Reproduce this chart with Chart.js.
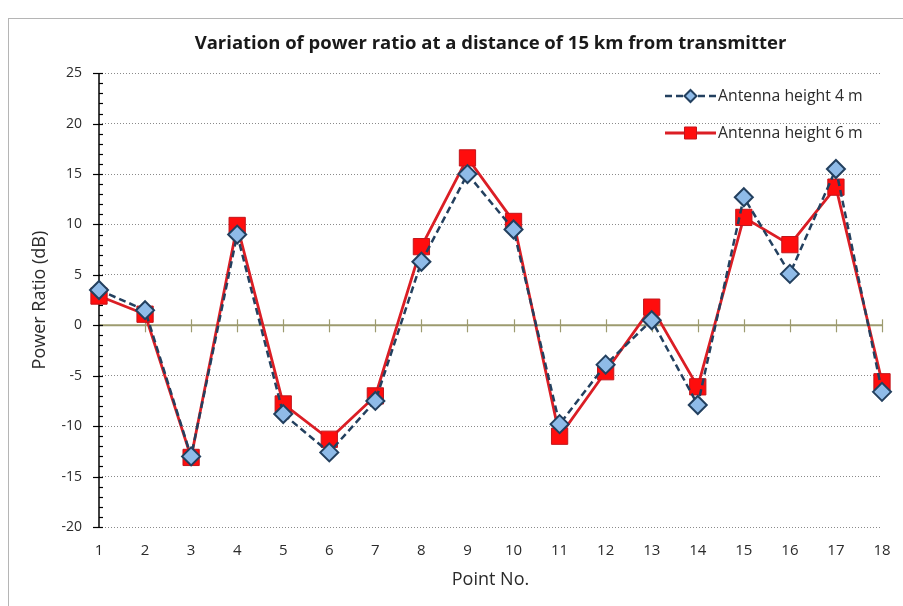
<!DOCTYPE html>
<html>
<head>
<meta charset="utf-8">
<script src="https://cdn.jsdelivr.net/npm/chart.js@4.4.0/dist/chart.umd.min.js"></script>
<style>
  html, body { margin: 0; padding: 0; background: #fff; }
  #wrap { width: 903px; height: 606px; position: relative; }
</style>
</head>
<body>
<div id="wrap"><canvas id="powerChart"></canvas></div>
<script>
// data
var pointNo = ['1', '2', '3', '4', '5', '6', '7', '8', '9', '10', '11', '12', '13', '14', '15', '16', '17', '18'];
var height4m = [3.5, 1.5, -13.0, 9.0, -8.8, -12.6, -7.5, 6.3, 15.0, 9.5, -9.8, -3.9, 0.5, -7.9, 12.7, 5.1, 15.5, -6.6];
var height6m = [2.9, 1.1, -13.1, 9.9, -7.8, -11.3, -7.0, 7.8, 16.6, 10.3, -11.0, -4.6, 1.8, -6.1, 10.7, 8.0, 13.7, -5.6];
var yMin = -20, yMax = 25, yStep = 5;

var fontFamily = '"Open Sans", Lato, sans-serif';
var textColor = '#2b2b2b';

// frame, zero line, y axis with minor ticks, legend
var axisPlugin = {
    id: 'axisPlugin',
    beforeDraw: function(chart) {
        var ctx = chart.ctx;
        ctx.save();
        ctx.strokeStyle = '#b5b5b5';
        ctx.lineWidth = 1;
        ctx.strokeRect(8.5, 18.5, 1000, 1000);
        ctx.restore();
    },
    beforeDatasetsDraw: function(chart) {
        var ctx = chart.ctx;
        var x = chart.scales.x, y = chart.scales.y;
        var area = chart.chartArea;
        var y0 = y.getPixelForValue(0);
        ctx.save();
        // zero line (category axis)
        ctx.strokeStyle = '#9d9b6f';
        ctx.lineWidth = 2;
        ctx.beginPath();
        ctx.moveTo(area.left, y0);
        ctx.lineTo(area.right, y0);
        ctx.stroke();
        ctx.lineWidth = 1.2;
        for (var i = 1; i < pointNo.length; i++) {
            var px = Math.round(x.getPixelForValue(i)) + 0.5;
            ctx.beginPath();
            ctx.moveTo(px, y0 - 6);
            ctx.lineTo(px, y0 + 7);
            ctx.stroke();
        }
        // y axis line and ticks
        ctx.strokeStyle = '#000';
        ctx.lineWidth = 1.5;
        ctx.beginPath();
        ctx.moveTo(area.left, area.top);
        ctx.lineTo(area.left, area.bottom);
        ctx.stroke();
        ctx.lineWidth = 1.2;
        for (var v = yMin; v <= yMax; v++) {
            var py = Math.round(y.getPixelForValue(v)) + 0.5;
            ctx.beginPath();
            ctx.moveTo(area.left - (v % yStep === 0 ? 6 : 0), py);
            ctx.lineTo(area.left + 4, py);
            ctx.stroke();
        }
        ctx.restore();
    },
    afterDatasetsDraw: function(chart) {
        // legend: line sample with the marker in the middle
        var ctx = chart.ctx;
        var rows = [96, 133];
        var markerSize = [6, 8.5];
        chart.data.datasets.forEach(function(ds, i) {
            var ly = rows[i];
            var x1 = 665, x2 = 716;
            ctx.save();
            ctx.strokeStyle = ds.borderColor;
            ctx.lineWidth = ds.borderWidth;
            ctx.setLineDash(ds.borderDash || []);
            ctx.beginPath();
            ctx.moveTo(x1, ly);
            ctx.lineTo(x2, ly);
            ctx.stroke();
            ctx.setLineDash([]);
            ctx.fillStyle = ds.pointBackgroundColor;
            ctx.strokeStyle = ds.pointBorderColor;
            ctx.lineWidth = ds.pointBorderWidth;
            Chart.helpers.drawPoint(ctx, { pointStyle: ds.pointStyle, radius: markerSize[i], rotation: 0, borderWidth: ds.pointBorderWidth }, (x1 + x2) / 2, ly);
            ctx.fillStyle = textColor;
            ctx.font = '15.8px ' + fontFamily;
            ctx.textBaseline = 'middle';
            ctx.fillText(ds.label, x2 + 2, ly);
            ctx.restore();
        });
    }
};

var ctx = document.getElementById('powerChart').getContext('2d');

var powerChart = new Chart(ctx, {
    type: 'line',
    data: {
        labels: pointNo,
        datasets: [{
            label: 'Antenna height 4 m',
            data: height4m,
            borderColor: '#23405f',
            borderWidth: 2.5,
            borderDash: [7, 4],
            pointStyle: 'rectRot',
            pointRadius: 9,
            pointHoverRadius: 9,
            pointBackgroundColor: '#8fbbe8',
            pointBorderColor: '#23405f',
            pointBorderWidth: 2,
            tension: 0
        }, {
            label: 'Antenna height 6 m',
            data: height6m,
            borderColor: '#db1e25',
            borderWidth: 2.8,
            pointStyle: 'rect',
            pointRadius: 11.5,
            pointHoverRadius: 11.5,
            pointBackgroundColor: '#ff0d0d',
            pointBorderColor: '#c3161c',
            pointBorderWidth: 1,
            tension: 0
        }]
    },
    options: {
        responsive: true,
        maintainAspectRatio: false,
        animation: false,
        layout: {
            padding: { top: 33, left: 29, right: 21, bottom: 15 }
        },
        plugins: {
            legend: { display: false },
            tooltip: { enabled: false },
            title: {
                display: true,
                fullSize: false,
                text: 'Variation of power ratio at a distance of 15 km from transmitter',
                color: '#1a1a1a',
                font: { family: fontFamily, size: 18.5, weight: 'bold' },
                padding: { top: 0, bottom: 18 }
            }
        },
        scales: {
            x: {
                offset: false,
                afterFit: function(scale) {
                    scale.height = 64;
                    scale.paddingLeft = 0;
                    scale.paddingRight = 0;
                },
                grid: { display: false, drawTicks: false },
                border: { display: false },
                ticks: {
                    color: textColor,
                    font: { family: fontFamily, size: 15 },
                    padding: 15,
                    maxRotation: 0,
                    autoSkip: false
                },
                title: {
                    display: true,
                    text: 'Point No.',
                    color: textColor,
                    font: { family: fontFamily, size: 18 },
                    padding: { top: 0, bottom: 0 }
                }
            },
            y: {
                min: yMin,
                max: yMax,
                afterFit: function(scale) { scale.width = 70; },
                ticks: {
                    stepSize: yStep,
                    color: textColor,
                    font: { family: fontFamily, size: 14 },
                    padding: 17
                },
                grid: {
                    drawTicks: false,
                    color: function(c) {
                        return c.tick && c.tick.value === 0 ? 'rgba(0,0,0,0)' : '#8a8a8a';
                    },
                    lineWidth: 1
                },
                border: { display: false, dash: [1, 2] },
                title: {
                    display: true,
                    text: 'Power Ratio (dB)',
                    color: textColor,
                    font: { family: fontFamily, size: 18 },
                    padding: { top: 0, bottom: 0 }
                }
            }
        }
    },
    plugins: [axisPlugin]
});
</script>
</body>
</html>
